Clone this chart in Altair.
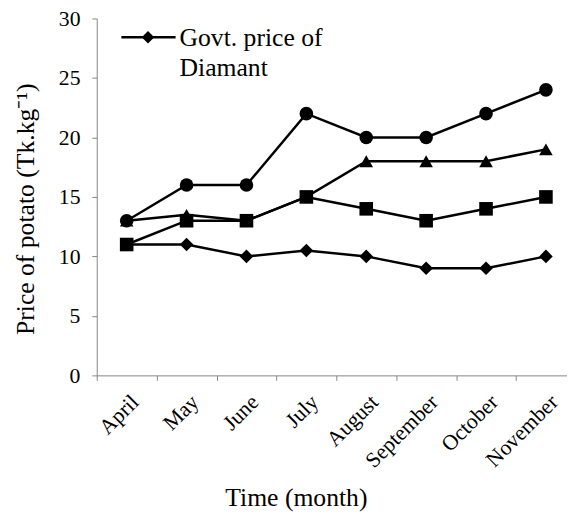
import altair as alt
import pandas as pd

months = ["April", "May", "June", "July", "August", "September", "October", "November"]
series_names = ["Market price A", "Market price B", "Market price C", "Govt. price of Diamant"]
circle_vals = [13, 16, 16, 22, 20, 20, 22, 24]
triangle_vals = [13, 13.5, 13, 15, 18, 18, 18, 19]
square_vals = [11, 13, 13, 15, 14, 13, 14, 15]
diamond_vals = [11, 11, 10, 10.5, 10, 9, 9, 10]
shapes = ["circle", "triangle-up", "square", "diamond"]
sizes = [190, 190, 180, 160]

rows = []
for name, vals in zip(series_names, [circle_vals, triangle_vals, square_vals, diamond_vals]):
    for i, v in enumerate(vals):
        rows.append({"month": months[i], "value": v, "series": name})
df = pd.DataFrame(rows)

FONT = "Liberation Serif, Times New Roman, serif"

x_enc = alt.X(
    "month:N",
    sort=months,
    scale=alt.Scale(domain=months, range=[0, 486], paddingInner=0, paddingOuter=0),
    axis=alt.Axis(
        tickBand="extent",
        labelAngle=-45,
        labelAlign="right",
        labelBaseline="top",
        labelOverlap=False,
        labelFont=FONT,
        labelFontSize=22,
        labelPadding=11,
        labelOffset=1,
        tickSize=5,
        grid=False,
        title="Time (month)",
        titleFont=FONT,
        titleFontSize=26,
        titleFontWeight="normal",
        titleX=202,
        titleY=132,
        titleBaseline="alphabetic",
    ),
)
y_enc = alt.Y(
    "value:Q",
    scale=alt.Scale(domain=[0, 30], nice=False),
    axis=alt.Axis(
        values=[0, 5, 10, 15, 20, 25, 30],
        tickSize=5,
        labelPadding=12,
        labelFont=FONT,
        labelFontSize=22,
        grid=False,
        title="Price of potato (Tk.kg⁻¹)",
        titleFont=FONT,
        titleFontSize=26,
        titleFontWeight="normal",
        titlePadding=20,
        titleY=193,
    ),
)

lines = alt.Chart(df).mark_line(color="black", strokeWidth=2.5).encode(
    x=x_enc, y=y_enc, detail="series:N"
)
points = alt.Chart(df).mark_point(filled=True, color="black", opacity=1).encode(
    x=alt.X("month:N", sort=months),
    y="value:Q",
    shape=alt.Shape("series:N", scale=alt.Scale(domain=series_names, range=shapes), legend=None),
    size=alt.Size("series:N", scale=alt.Scale(domain=series_names, range=sizes), legend=None),
)

leg_df = pd.DataFrame({"label": ["Govt. price of Diamant"]})
leg_rule = alt.Chart(leg_df).mark_rule(color="black", strokeWidth=2.5).encode(
    x=alt.value(25), x2=alt.value(80), y=alt.value(19)
)
leg_pt = alt.Chart(leg_df).mark_point(filled=True, color="black", opacity=1, shape="diamond", size=160).encode(
    x=alt.value(52), y=alt.value(19)
)
leg_txt = alt.Chart(leg_df).mark_text(
    align="left", baseline="alphabetic", font=FONT, fontSize=26, color="black", lineHeight=30
).encode(
    x=alt.value(84), y=alt.value(28), text=alt.value(["Govt. price of", "Diamant"])
)

chart = alt.layer(lines, points, leg_rule, leg_pt, leg_txt).properties(
    width=469,
    height=362,
    autosize=alt.AutoSizeParams(type="none"),
    padding={"left": 90, "top": 7, "right": 8, "bottom": 139},
).configure_view(stroke=None).configure_axis(
    labelColor="black", titleColor="black",
    domainColor="#868686", tickColor="#868686", domainWidth=1, tickWidth=1,
)

chart.save("out.html", embed_options={"renderer": "svg", "actions": False})
